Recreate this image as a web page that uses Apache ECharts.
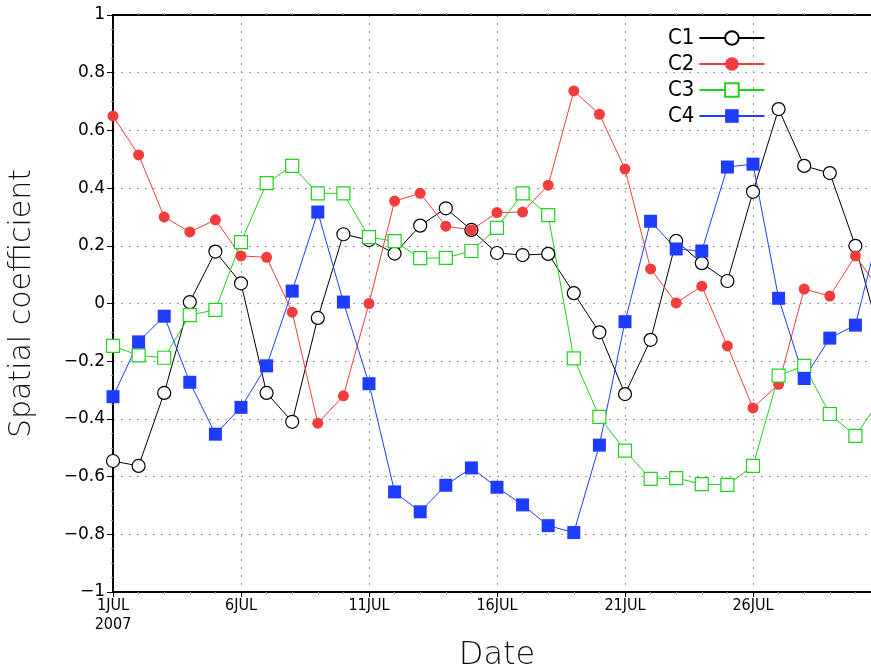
<!DOCTYPE html>
<html>
<head>
<meta charset="utf-8">
<script src="https://cdn.jsdelivr.net/npm/echarts@6/dist/echarts.min.js"></script>
<style>
  html, body { margin: 0; padding: 0; background: #ffffff; }
  #chart { width: 871px; height: 671px; }
</style>
</head>
<body>
<div id="chart"></div>
<script>
// days of July 2007
const days = [1, 2, 3, 4, 5, 6, 7, 8, 9, 10, 11, 12, 13, 14, 15, 16, 17, 18, 19, 20, 21, 22, 23, 24, 25, 26, 27, 28, 29, 30, 31]
const xTicks = [1, 6, 11, 16, 21, 26]

const c1 = [-0.546, -0.563, -0.31, 0.005, 0.18, 0.07, -0.31, -0.41, -0.05, 0.24, 0.22, 0.173, 0.27, 0.33, 0.255, 0.175, 0.168, 0.172, 0.036, -0.10, -0.314, -0.126, 0.217, 0.14, 0.078, 0.387, 0.674, 0.477, 0.452, 0.2, -0.13]
const c2 = [0.65, 0.515, 0.30, 0.248, 0.29, 0.165, 0.16, -0.03, -0.415, -0.32, 0.0, 0.355, 0.382, 0.268, 0.255, 0.315, 0.317, 0.41, 0.737, 0.656, 0.466, 0.12, 0.002, 0.06, -0.147, -0.362, -0.28, 0.05, 0.026, 0.165, 0.04]
const c3 = [-0.147, -0.18, -0.188, -0.04, -0.022, 0.213, 0.417, 0.477, 0.382, 0.382, 0.23, 0.216, 0.157, 0.158, 0.182, 0.262, 0.382, 0.306, -0.19, -0.393, -0.51, -0.608, -0.605, -0.626, -0.629, -0.563, -0.25, -0.216, -0.383, -0.459, -0.33]
const c4 = [-0.323, -0.133, -0.044, -0.273, -0.453, -0.36, -0.216, 0.043, 0.317, 0.005, -0.278, -0.653, -0.722, -0.63, -0.57, -0.637, -0.698, -0.77, -0.794, -0.491, -0.063, 0.285, 0.189, 0.182, 0.473, 0.483, 0.018, -0.26, -0.12, -0.075, 0.28]

const font = "'DejaVu Sans', sans-serif"
const narrow = "'DejaVu Sans Condensed', 'DejaVu Sans', sans-serif"

const pairs = arr => days.map((d, i) => [d, arr[i]])

function lineSeries (name, data, color, symbol, filled, size) {
  return {
    name: name,
    type: 'line',
    data: pairs(data),
    symbol: symbol,
    symbolSize: size,
    showAllSymbol: true,
    lineStyle: { color: color, width: 1 },
    itemStyle: {
      color: filled ? color : '#ffffff',
      borderColor: color,
      borderWidth: filled ? 0 : 1.2
    },
    emphasis: { disabled: true }
  }
}

const chart = echarts.init(document.getElementById('chart'), null, { renderer: 'canvas' })
chart.setOption({
  animation: false,
  backgroundColor: '#ffffff',
  grid: { left: 113, top: 15, bottom: 79, right: -10, outerBoundsMode: 'none', containLabel: false },
  legend: {
    orient: 'vertical',
    left: 663,
    top: 22,
    align: 'right',
    itemWidth: 65,
    itemHeight: 17,
    itemGap: 4,
    textStyle: { fontFamily: narrow, fontSize: 22, fontWeight: 200, color: '#000' },
    data: ['C1', 'C2', 'C3', 'C4']
  },
  xAxis: [
    {
      type: 'value',
      min: 1,
      max: 31,
      interval: 5,
      name: 'Date',
      nameLocation: 'middle',
      nameGap: 48,
      nameTextStyle: { fontFamily: font, fontSize: 32, fontWeight: 200, color: '#111' },
      axisLine: { onZero: false, lineStyle: { color: '#000', width: 2 } },
      axisTick: { show: true, length: 5, lineStyle: { color: '#000' } },
      minorTick: { show: true, splitNumber: 5, length: 2, lineStyle: { color: '#999' } },
      axisLabel: {
        fontFamily: narrow,
        fontSize: 16,
        color: '#000',
        margin: 4,
        lineHeight: 19,
        formatter: v => (v === 1 ? '1JUL\n2007' : (xTicks.indexOf(v) >= 0 ? v + 'JUL' : ''))
      },
      splitLine: { show: true, lineStyle: { color: '#999', type: [2, 6], width: 1 } }
    },
    {
      type: 'value',
      position: 'top',
      min: 1,
      max: 31,
      interval: 5,
      axisLine: { show: true, onZero: false, lineStyle: { color: '#000', width: 2 } },
      axisTick: { show: false },
      minorTick: { show: true, splitNumber: 5, length: 2, lineStyle: { color: '#999' } },
      axisLabel: { show: false },
      splitLine: { show: false }
    }
  ],
  yAxis: {
    type: 'value',
    min: -1,
    max: 1,
    interval: 0.2,
    name: 'Spatial coefficient',
    nameLocation: 'middle',
    nameGap: 76,
    nameTextStyle: { fontFamily: font, fontSize: 30, fontWeight: 200, color: '#111' },
    axisLine: { show: true, onZero: false, lineStyle: { color: '#000', width: 2 } },
    axisTick: { show: true, length: 6, lineStyle: { color: '#000' } },
    minorTick: { show: true, splitNumber: 4, length: 2, lineStyle: { color: '#999' } },
    axisLabel: {
      fontFamily: font,
      fontSize: 17,
      color: '#000',
      margin: 8,
      formatter: v => {
        const r = Math.round(v * 10) / 10
        if (r === 0) return '0'
        return (r < 0 ? '\u2212' : '') + String(Math.abs(r))
      }
    },
    splitLine: { show: true, lineStyle: { color: '#999', type: [2, 6], width: 1 } }
  },
  series: [
    lineSeries('C1', c1, '#000000', 'circle', false, 13),
    lineSeries('C2', c2, '#f43c3c', 'circle', true, 11),
    lineSeries('C3', c3, '#1ed21e', 'rect', false, 13),
    lineSeries('C4', c4, '#1e3cff', 'rect', true, 13)
  ]
})
</script>
</body>
</html>
